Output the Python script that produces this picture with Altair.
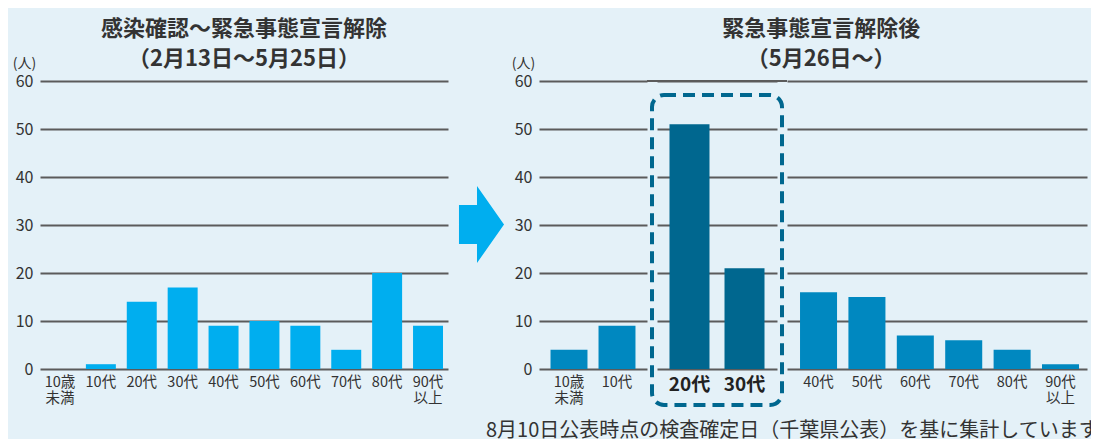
import altair as alt
import pandas as pd

# ---------------- data ----------------
ages_all = ["10歳|未満", "10代", "20代", "30代", "40代", "50代", "60代", "70代", "80代", "90代|以上"]
before_counts = [0, 1, 14, 17, 9, 10, 9, 4, 20, 9]

after_grp1 = ["10歳|未満", "10代"]
after_grp1_counts = [4, 9]
after_grp2 = ["20代", "30代"]
after_grp2_counts = [51, 21]
after_grp3 = ["40代", "50代", "60代", "70代", "80代", "90代|以上"]
after_grp3_counts = [16, 15, 7, 6, 4, 1]

y_ticks = [0, 10, 20, 30, 40, 50, 60]
left_title = ["感染確認～緊急事態宣言解除", "（2月13日～5月25日）"]
right_title = ["緊急事態宣言解除後", "（5月26日～）"]
unit_label = "(人)"
note_text = ["8月10日公表時点の検査確定日（千葉県公表）を基に集計しています。"]

# ---------------- styles ----------------
FONT = "Noto Sans CJK JP"
BG = "#e4f1f8"
GRID = "#5b5b5b"
TXT = "#333333"
C_LEFT = "#00aeef"
C_RIGHT = "#0088c0"
C_HI = "#00678f"
H = 288
ARROW = "M-0.585,-0.506 L-0.117,-0.506 L-0.117,-1 L0.585,0 L-0.117,1 L-0.117,0.506 L-0.585,0.506 Z"

yscale = alt.Scale(domain=[0, 60], nice=False)


def y_axis(show):
    if show:
        return alt.Axis(values=y_ticks, grid=True, gridColor=GRID, gridWidth=1.8,
                        domain=False, ticks=False, labelFontSize=16, labelColor=TXT,
                        labelFont=FONT, labelPadding=7,
                        title=unit_label, titleAngle=0, titleX=-16, titleY=-14,
                        titleAlign="center", titleBaseline="alphabetic",
                        titleFontSize=14, titleFontWeight="normal", titleColor=TXT,
                        titleFont=FONT)
    return alt.Axis(values=y_ticks, grid=True, gridColor=GRID, gridWidth=1.8,
                    domain=False, ticks=False, labels=False, title=None)


def x_axis(bold=False):
    return alt.Axis(title=None, labelAngle=0, ticks=False, domain=False,
                    labelFontSize=19 if bold else 14.5,
                    labelFontWeight="bold" if bold else "normal",
                    labelColor="#222222" if bold else TXT, labelFont=FONT,
                    labelPadding=6, labelLineHeight=16.5, labelBaseline="top",
                    labelExpr="split(datum.label, '|')")


def bars(cats, counts, color, show_y, pi, po, align, width, bold=False):
    df = pd.DataFrame({"age": cats, "n": counts})
    return alt.Chart(df).mark_bar(color=color).encode(
        x=alt.X("age:N", sort=cats,
                scale=alt.Scale(paddingInner=pi, paddingOuter=po, align=align),
                axis=x_axis(bold)),
        y=alt.Y("n:Q", scale=yscale, axis=y_axis(show_y)),
    ).properties(width=width, height=H)


title_style = dict(fontSize=22, font=FONT, fontWeight="bold", color=TXT,
                   lineHeight=30, anchor="middle", offset=-15)

# left panel with arrow
left_bars = bars(ages_all, before_counts, C_LEFT, True, 0.267, 0.122, 0.5, 408)
arrow = alt.Chart(pd.DataFrame({"k": [0]})).mark_point(
    shape=ARROW, size=5929, filled=True, color=C_LEFT, opacity=1, strokeWidth=0
).encode(x=alt.value(441.5), y=alt.value(143.5))
left = alt.layer(left_bars, arrow).properties(
    title=alt.Title(left_title, frame="group", **title_style))

# right panel (three groups)
sub1 = bars(after_grp1, after_grp1_counts, C_RIGHT, True, 0.23, 0.24, 0.5, 108)
sub2_bars = bars(after_grp2, after_grp2_counts, C_HI, False, 0.273, 0.227, 0.5, 120, bold=True)
top_rule = alt.Chart(pd.DataFrame({"k": [0]})).mark_rule(
    color=GRID, strokeWidth=1.8).encode(x=alt.value(-10), x2=alt.value(130), y=alt.value(0))
box = alt.Chart(pd.DataFrame({"k": [0]})).mark_rect(
    fillOpacity=0, stroke=C_HI, strokeWidth=4, strokeDash=[12, 7], cornerRadius=12
).encode(x=alt.value(-5), x2=alt.value(125), y=alt.value(14), y2=alt.value(324))
sub2 = alt.layer(sub2_bars, top_rule, box)
sub3 = bars(after_grp3, after_grp3_counts, C_RIGHT, False, 0.235, 0.217, 0.62, 300)

right = alt.hconcat(sub1, sub2, sub3, spacing=10, bounds="flush").properties(
    title=alt.Title(right_title, frame="bounds", dx=22, **title_style))

top_row = alt.hconcat(left, right, spacing=6)

# footnote, clipped at the right edge like the source image
note = alt.Chart(pd.DataFrame({"t": note_text})).mark_text(
    align="left", baseline="alphabetic", fontSize=20, font=FONT, color=TXT, clip=True
).encode(text="t:N", x=alt.value(446), y=alt.value(30)).properties(width=1051, height=32)

chart = alt.vconcat(top_row, note, spacing=0).properties(
    padding={"left": 4, "top": 10, "right": 0, "bottom": 0}
).configure(background=BG).configure_view(stroke=None)

chart.save("out.html", embed_options={"renderer": "svg", "actions": False})
